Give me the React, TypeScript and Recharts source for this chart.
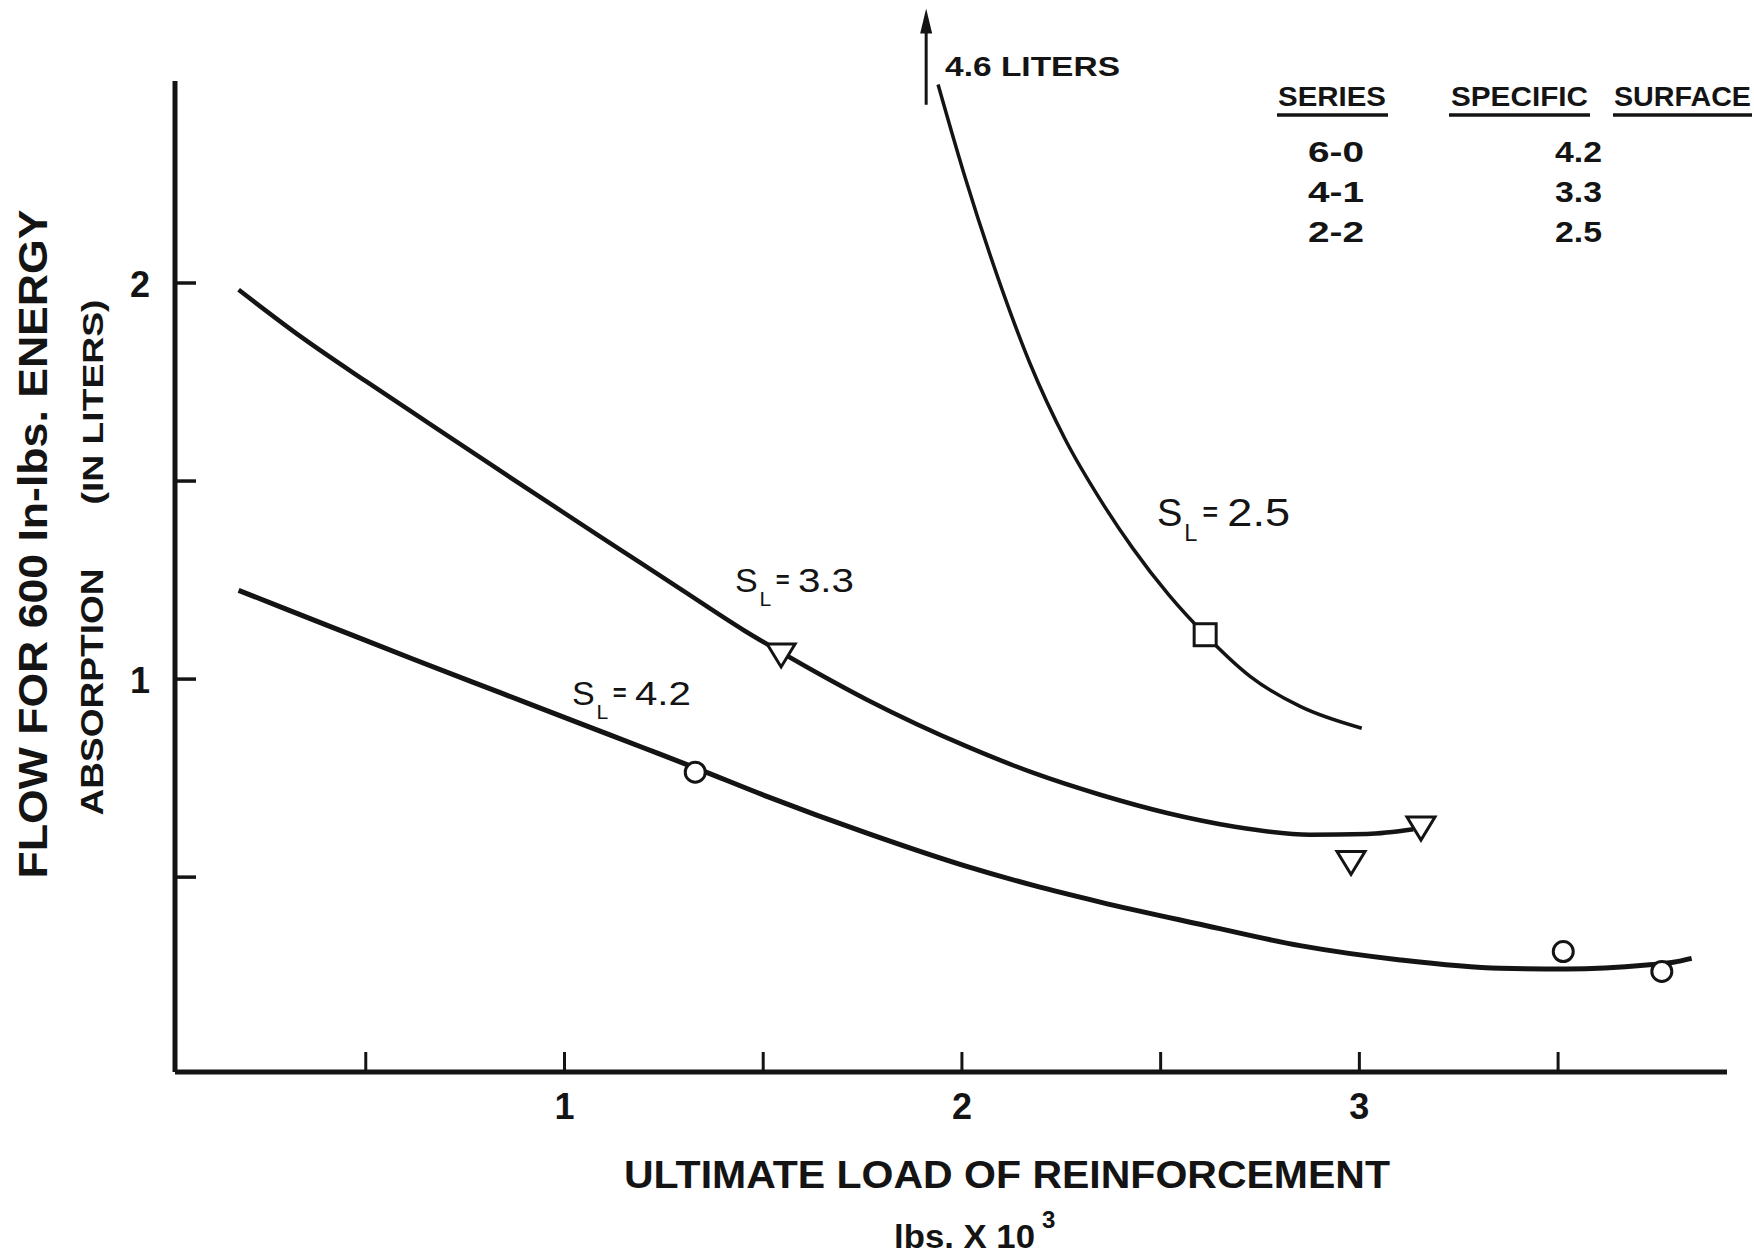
import { ComposedChart, Line, Scatter, XAxis, YAxis, ReferenceLine, ReferenceDot } from "recharts";

const INK = "#141414";
const FONT = "'Liberation Sans', Arial, sans-serif";

// curves: [load (lbs x 10^3), flow (liters)]
const curve42: [number, number][] = [
  [0.18, 1.224], [0.4, 1.137], [0.62, 1.05], [0.84, 0.965], [1.06, 0.88],
  [1.2, 0.826], [1.329, 0.776], [1.509, 0.704], [1.761, 0.611], [2.012, 0.527],
  [2.18, 0.479], [2.348, 0.437], [2.599, 0.381], [2.851, 0.327], [3.103, 0.291],
  [3.354, 0.27], [3.522, 0.268], [3.723, 0.278], [3.79, 0.285], [3.836, 0.295],
];
const curve33: [number, number][] = [
  [0.18, 1.983], [0.34, 1.862], [0.5, 1.752], [0.66, 1.645], [0.82, 1.538],
  [0.98, 1.432], [1.14, 1.327], [1.3, 1.222], [1.45, 1.124], [1.572, 1.052],
  [1.761, 0.948], [2.012, 0.83], [2.18, 0.763], [2.348, 0.708], [2.516, 0.662],
  [2.683, 0.628], [2.876, 0.607], [3.019, 0.609], [3.136, 0.621],
];
const curve25: [number, number][] = [
  [1.94, 2.501], [2.01, 2.26], [2.09, 2.015], [2.17, 1.8], [2.26, 1.605],
  [2.35, 1.45], [2.43, 1.33], [2.52, 1.213], [2.612, 1.112], [2.725, 1.007],
  [2.851, 0.931], [3.006, 0.876],
];

// measured points
const circles: [number, number][] = [[1.329, 0.765], [3.513, 0.312], [3.761, 0.262]];
const triangles: [number, number][] = [[1.545, 1.061], [2.979, 0.537], [3.155, 0.624]];
const squares: [number, number][] = [[2.612, 1.112]];

const xTicks = [0.5, 1, 1.5, 2, 2.5, 3, 3.5];
const xLabeled = [1, 2, 3];
const yTicks = [0.5, 1, 1.5, 2];
const yLabeled = [1, 2];

const legendSeries = ["6-0", "4-1", "2-2"];
const legendSurface = ["4.2", "3.3", "2.5"];

// off-scale arrow for the 2.5 curve
const arrowX = 1.91;
const arrowFrom = 2.45;
const arrowTip = 2.693;

const pts = (a: [number, number][]) => a.map(([x, y]) => ({ x, y }));

function XTick({ x, y, payload }: any) {
  const v = payload.value;
  return (
    <g>
      <line x1={x} x2={x} y1={y} y2={y - 20} stroke={INK} strokeWidth={3} />
      {xLabeled.includes(v) && (
        <text x={x} y={y + 47} textAnchor="middle" fontSize={36} fontWeight={700} fill={INK} fontFamily={FONT}>
          {v}
        </text>
      )}
    </g>
  );
}

function YTick({ x, y, payload }: any) {
  const v = payload.value;
  return (
    <g>
      <line x1={x} x2={x + 21} y1={y} y2={y} stroke={INK} strokeWidth={3.5} />
      {yLabeled.includes(v) && (
        <text x={x - 35} y={y + 14} textAnchor="middle" fontSize={36} fontWeight={700} fill={INK} fontFamily={FONT}>
          {v}
        </text>
      )}
    </g>
  );
}

function SLabel({ x, y, size, value }: { x: number; y: number; size: number; value: string }) {
  return (
    <g fill={INK} fontFamily={FONT}>
      <text x={x} y={y} fontSize={size}>S</text>
      <text x={x + 0.72 * size} y={y + 0.4 * size} fontSize={0.62 * size}>L</text>
      <text x={x + 1.2 * size} y={y - 0.12 * size} fontSize={0.7 * size} fontWeight={700}>=</text>
      <text x={x + 1.85 * size} y={y} fontSize={size} textLength={1.65 * size} lengthAdjust="spacingAndGlyphs">
        {value}
      </text>
    </g>
  );
}

export default function App() {
  return (
    <div style={{ position: "absolute", left: 0, top: 0, width: 1754, height: 1257, background: "#fff" }}>
      <ComposedChart width={1754} height={1257} margin={{ top: 81, right: 27, bottom: 155, left: 115 }}>
        <XAxis
          type="number"
          dataKey="x"
          domain={[0.02, 3.925]}
          ticks={xTicks}
          interval={0}
          tickLine={false}
          tickSize={0}
          tickMargin={0}
          tick={(p: any) => <XTick {...p} />}
          axisLine={{ stroke: INK, strokeWidth: 5 }}
          height={30}
        />
        <YAxis
          type="number"
          dataKey="y"
          domain={[0.008, 2.51]}
          ticks={yTicks}
          interval={0}
          tickLine={false}
          tickSize={0}
          tickMargin={0}
          tick={(p: any) => <YTick {...p} />}
          axisLine={{ stroke: INK, strokeWidth: 5 }}
          width={60}
        />
        <Line data={pts(curve42)} dataKey="y" type="monotone" stroke={INK} strokeWidth={5} dot={false} isAnimationActive={false} />
        <Line data={pts(curve33)} dataKey="y" type="monotone" stroke={INK} strokeWidth={4.5} dot={false} isAnimationActive={false} />
        <Line data={pts(curve25)} dataKey="y" type="monotone" stroke={INK} strokeWidth={3.5} dot={false} isAnimationActive={false} />
        <Scatter
          data={pts(circles)}
          isAnimationActive={false}
          shape={(p: any) => <circle cx={p.cx} cy={p.cy} r={10} fill="#fff" stroke={INK} strokeWidth={3} />}
        />
        <Scatter
          data={pts(triangles)}
          isAnimationActive={false}
          shape={(p: any) => (
            <path
              d={`M${p.cx - 14},${p.cy - 11} L${p.cx + 14},${p.cy - 11} L${p.cx},${p.cy + 12} Z`}
              fill="#fff"
              stroke={INK}
              strokeWidth={3}
              strokeLinejoin="miter"
            />
          )}
        />
        <Scatter
          data={pts(squares)}
          isAnimationActive={false}
          shape={(p: any) => <rect x={p.cx - 11} y={p.cy - 11} width={22} height={22} fill="#fff" stroke={INK} strokeWidth={3} />}
        />
        <ReferenceLine
          segment={[{ x: arrowX, y: arrowFrom }, { x: arrowX, y: arrowTip - 0.05 }]}
          stroke={INK}
          strokeWidth={3}
          ifOverflow="visible"
        />
        <ReferenceDot
          x={arrowX}
          y={arrowTip}
          ifOverflow="visible"
          shape={(p: any) => <path d={`M${p.cx},${p.cy} L${p.cx - 6},${p.cy + 25} L${p.cx + 6},${p.cy + 25} Z`} fill={INK} />}
        />
      </ComposedChart>

      <svg width={1754} height={1257} style={{ position: "absolute", left: 0, top: 0, pointerEvents: "none" }}>
        <g fill={INK} fontFamily={FONT} fontWeight={700}>
          {/* y axis title */}
          <text
            transform="translate(47,544) rotate(-90)"
            textAnchor="middle"
            fontSize={40}
            textLength={669}
            lengthAdjust="spacingAndGlyphs"
          >
            FLOW FOR 600 In-lbs. ENERGY
          </text>
          <text transform="translate(103,692) rotate(-90)" textAnchor="middle" fontSize={32} textLength={247} lengthAdjust="spacingAndGlyphs">
            ABSORPTION
          </text>
          <text transform="translate(103,402) rotate(-90)" textAnchor="middle" fontSize={30} textLength={205} lengthAdjust="spacingAndGlyphs">
            (IN LITERS)
          </text>

          {/* x axis title */}
          <text x={624} y={1188} fontSize={38} textLength={766} lengthAdjust="spacingAndGlyphs">
            ULTIMATE LOAD OF REINFORCEMENT
          </text>
          <text x={894} y={1248} fontSize={33} textLength={141} lengthAdjust="spacingAndGlyphs">
            lbs. X 10
          </text>
          <text x={1042} y={1228} fontSize={24}>3</text>

          {/* arrow note */}
          <text x={945} y={76} fontSize={27} textLength={175} lengthAdjust="spacingAndGlyphs">
            4.6 LITERS
          </text>

          {/* legend table */}
          <text x={1278} y={106} fontSize={28} textLength={108} lengthAdjust="spacingAndGlyphs">SERIES</text>
          <text x={1451} y={106} fontSize={28} textLength={137} lengthAdjust="spacingAndGlyphs">SPECIFIC</text>
          <text x={1614} y={106} fontSize={28} textLength={137} lengthAdjust="spacingAndGlyphs">SURFACE</text>
          <line x1={1277} x2={1388} y1={115} y2={115} stroke={INK} strokeWidth={3.5} />
          <line x1={1449} x2={1590} y1={115} y2={115} stroke={INK} strokeWidth={3.5} />
          <line x1={1613} x2={1752} y1={115} y2={115} stroke={INK} strokeWidth={3.5} />
          {legendSeries.map((s, i) => (
            <text key={s} x={1308} y={162 + i * 40} fontSize={29} textLength={56} lengthAdjust="spacingAndGlyphs">{s}</text>
          ))}
          {legendSurface.map((s, i) => (
            <text key={s} x={1555} y={162 + i * 40} fontSize={29} textLength={47} lengthAdjust="spacingAndGlyphs">{s}</text>
          ))}
        </g>

        <SLabel x={572} y={705} size={34} value="4.2" />
        <SLabel x={735} y={592} size={34} value="3.3" />
        <SLabel x={1157} y={526} size={38} value="2.5" />
      </svg>
    </div>
  );
}
